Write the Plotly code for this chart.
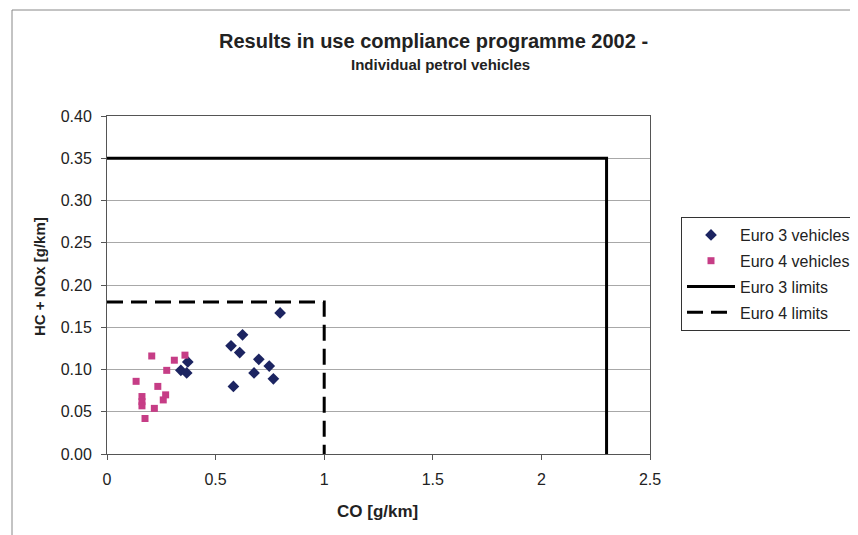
import plotly.graph_objects as go

# Euro 3 vehicles (CO, HC+NOx)
e3_co = [0.372, 0.340, 0.367, 0.571, 0.624, 0.611, 0.699, 0.747, 0.677, 0.766, 0.582, 0.797]
e3_hc = [0.109, 0.099, 0.096, 0.128, 0.141, 0.120, 0.112, 0.104, 0.096, 0.089, 0.080, 0.167]

# Euro 4 vehicles
e4_co = [0.134, 0.161, 0.161, 0.161, 0.175, 0.206, 0.218, 0.234, 0.259, 0.270, 0.275, 0.310, 0.359]
e4_hc = [0.086, 0.068, 0.062, 0.057, 0.042, 0.116, 0.054, 0.080, 0.064, 0.070, 0.099, 0.111, 0.117]

# Limits
e3_lim_co = [0, 2.3, 2.3]
e3_lim_hc = [0.35, 0.35, 0]
e4_lim_co = [0, 1, 1]
e4_lim_hc = [0.18, 0.18, 0]

x_ticks = [0, 0.5, 1, 1.5, 2, 2.5]
x_labels = ["0", "0.5", "1", "1.5", "2", "2.5"]
y_ticks = [0, 0.05, 0.10, 0.15, 0.20, 0.25, 0.30, 0.35, 0.40]
y_labels = ["0.00", "0.05", "0.10", "0.15", "0.20", "0.25", "0.30", "0.35", "0.40"]

font = "Liberation Sans, Arial, sans-serif"

# page body has an 8px margin: plot area placed so that it lands at x 107..650, y 116..454 on screen
OFF = 8
PL, PR, PT, PB = 107, 650, 116, 454
W, H = 858 - OFF, 535 - OFF
PW, PH = PR - PL, PB - PT


def px(x):
    return (x - PL) / PW


def py(y):
    return (PB - y) / PH


fig = go.Figure()
fig.add_trace(go.Scatter(x=e3_co, y=e3_hc, mode="markers", name="Euro 3 vehicles", legendgroup="a",
                         marker=dict(symbol="diamond", size=9, color="#1c2461")))
fig.add_trace(go.Scatter(x=e4_co, y=e4_hc, mode="markers", name="Euro 4 vehicles", legendgroup="b",
                         marker=dict(symbol="square", size=7, color="#c63d86")))
fig.add_trace(go.Scatter(x=e3_lim_co, y=e3_lim_hc, mode="lines", name="Euro 3 limits", legendgroup="c",
                         line=dict(color="black", width=3)))
fig.add_trace(go.Scatter(x=e4_lim_co, y=e4_lim_hc, mode="lines", name="Euro 4 limits", legendgroup="d",
                         line=dict(color="black", width=3, dash="16px,8px")))

fig.update_layout(
    width=W, height=H,
    margin=dict(l=PL - OFF, r=W - (PR - OFF), t=PT - OFF, b=H - (PB - OFF), autoexpand=False),
    paper_bgcolor="white", plot_bgcolor="white",
    font=dict(family=font, size=15, color="#222"),
    showlegend=True,
    legend=dict(x=px(681), y=py(217), xanchor="left", yanchor="top",
                bordercolor="#333", borderwidth=1, bgcolor="white", itemwidth=48,
                font=dict(size=16, family=font), tracegroupgap=2),
    xaxis=dict(range=[0, 2.5], tickvals=x_ticks, ticktext=x_labels, automargin=False,
               showgrid=False, zeroline=False, showline=True, linecolor="#555",
               mirror=True, ticks="outside", ticklen=5, tickcolor="#555",
               tickfont=dict(size=16), ticklabelstandoff=6),
    yaxis=dict(range=[0, 0.40], tickvals=y_ticks, ticktext=y_labels, automargin=False,
               showgrid=True, gridcolor="#a8a8a8", gridwidth=1, zeroline=False,
               showline=True, linecolor="#555", mirror=True,
               ticks="outside", ticklen=5, tickcolor="#555",
               tickfont=dict(size=16), ticklabelstandoff=6),
    annotations=[
        dict(text="<b>Results in use compliance programme 2002 -</b>", xref="paper", yref="paper",
             x=px(433), y=py(41), xanchor="center", yanchor="middle",
             showarrow=False, font=dict(size=20)),
        dict(text="<b>Individual petrol vehicles</b>", xref="paper", yref="paper",
             x=px(440), y=py(64), xanchor="center", yanchor="middle",
             showarrow=False, font=dict(size=15)),
        dict(text="<b>CO [g/km]</b>", xref="paper", yref="paper",
             x=px(377), y=py(511), xanchor="center", yanchor="middle",
             showarrow=False, font=dict(size=17)),
        dict(text="<b>HC + NOx [g/km]</b>", xref="paper", yref="paper", textangle=-90,
             x=px(39), y=py(276), xanchor="center", yanchor="middle",
             showarrow=False, font=dict(size=15)),
    ],
    shapes=[
        dict(type="rect", xref="paper", yref="paper",
             x0=px(12), x1=px(880), y0=py(560), y1=py(10),
             line=dict(color="#888", width=1), layer="below"),
    ],
)

fig.write_html("out.html")
